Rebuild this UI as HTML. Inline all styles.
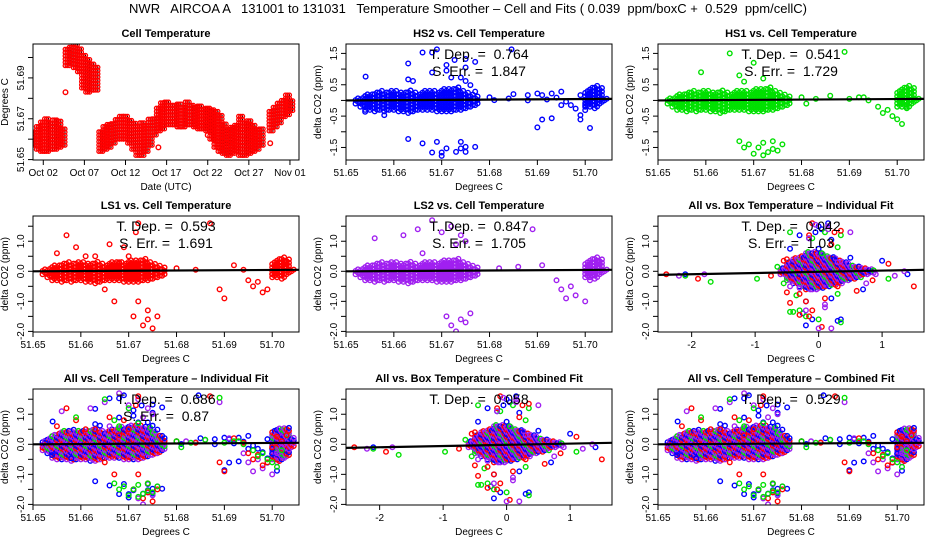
<!DOCTYPE html>
<html><head><meta charset="utf-8">
<style>
html,body{margin:0;padding:0;background:#fff;}
svg{display:block;font-family:"Liberation Sans",Arial,sans-serif;}
text{white-space:pre;}
</style></head>
<body>
<svg id="chart" width="936" height="540" viewBox="0 0 936 540" xmlns="http://www.w3.org/2000/svg">
<rect width="936" height="540" fill="#fff"/>
<text x="468" y="13" font-size="13" text-anchor="middle" xml:space="preserve">NWR   AIRCOA A   131001 to 131031   Temperature Smoother – Cell and Fits ( 0.039  ppm/boxC +  0.529  ppm/cellC)</text>
<g id="plots"></g>
</svg>
<script>
// ---------- data ----------
const tsDay=[0.9,1.4,1.9,2.4,2.9,3.4,3.9,4.4,4.9,5.4,5.9,6.4,6.9,7.4,7.9,8.4,9.0,9.5,10.0,10.5,11.0,11.5,12.0,12.5,13.0,13.5,14.0,14.5,15.0,15.5,16.0,16.5,17.0,17.5,18.0,18.5,19.0,19.5,20.0,20.5,21.0,21.5,22.0,22.5,23.0,23.5,24.0,24.5,25.0,25.5,26.0,26.5,27.0,27.5,28.0,28.5,29.7,30.2,30.7,31.2,31.7,32.1];
const tsLo=[51.657,51.655,51.654,51.654,51.655,51.655,51.656,51.657,51.696,51.697,51.695,51.693,51.685,51.683,51.684,51.684,51.654,51.655,51.656,51.658,51.660,51.660,51.660,51.658,51.655,51.652,51.652,51.654,51.657,51.662,51.664,51.665,51.667,51.667,51.667,51.666,51.666,51.667,51.667,51.666,51.665,51.665,51.664,51.660,51.656,51.654,51.653,51.652,51.653,51.654,51.652,51.652,51.653,51.654,51.655,51.657,51.664,51.666,51.668,51.671,51.672,51.674];
const tsHi=[51.664,51.667,51.669,51.671,51.668,51.670,51.669,51.665,51.705,51.706,51.707,51.705,51.701,51.700,51.698,51.696,51.664,51.667,51.668,51.669,51.671,51.672,51.672,51.670,51.668,51.667,51.668,51.667,51.670,51.671,51.676,51.678,51.679,51.678,51.677,51.678,51.677,51.679,51.677,51.676,51.677,51.676,51.676,51.675,51.674,51.672,51.668,51.666,51.667,51.668,51.672,51.668,51.670,51.668,51.666,51.666,51.674,51.676,51.678,51.680,51.682,51.679];
const tsOutDay=[4.7,16.0,29.6,22.0];
const tsOutVal=[51.683,51.656,51.658,51.662];
const dateLabels=["Oct 02","Oct 07","Oct 12","Oct 17","Oct 22","Oct 27","Nov 01"];
const dateTicks=[2,7,12,17,22,27,32];

const coreX=[51.652,51.653,51.654,51.655,51.656,51.657,51.658,51.659,51.660,51.661,51.662,51.663,51.664,51.665,51.666,51.667,51.668,51.669,51.670,51.671,51.672,51.673,51.674,51.675,51.676,51.677,51.700,51.701,51.702,51.703,51.704];
const coreLo=[-0.1,-0.2,-0.3,-0.3,-0.35,-0.3,-0.35,-0.3,-0.3,-0.35,-0.35,-0.4,-0.35,-0.3,-0.3,-0.3,-0.3,-0.35,-0.35,-0.35,-0.35,-0.3,-0.3,-0.25,-0.2,-0.15,-0.2,-0.2,-0.25,-0.1,0];
const coreHi=[0.05,0.1,0.15,0.2,0.25,0.25,0.3,0.25,0.25,0.3,0.3,0.3,0.25,0.2,0.25,0.3,0.35,0.3,0.35,0.4,0.4,0.4,0.3,0.25,0.15,0.1,0.3,0.4,0.45,0.4,0.1];
const wideLo=[-0.2,-0.3,-0.45,-0.5,-0.5,-0.5,-0.55,-0.5,-0.5,-0.5,-0.55,-0.55,-0.5,-0.45,-0.45,-0.45,-0.45,-0.5,-0.5,-0.5,-0.5,-0.45,-0.4,-0.35,-0.3,-0.2,-0.5,-0.6,-0.5,-0.4,-0.1];
const wideHi=[0.1,0.2,0.3,0.35,0.4,0.45,0.45,0.45,0.4,0.45,0.5,0.5,0.45,0.4,0.45,0.5,0.55,0.5,0.6,0.65,0.65,0.6,0.5,0.4,0.3,0.2,0.45,0.5,0.55,0.5,0.2];

const hs2X=[51.6541,51.663,51.663,51.664,51.666,51.668,51.669,51.668,51.671,51.671,51.6727,51.675,51.675,51.677,51.672,51.674,51.675,51.676,51.677,51.6846,51.663,51.666,51.668,51.669,51.670,51.670,51.671,51.673,51.674,51.674,51.675,51.675,51.677,51.658,51.654,51.680,51.681,51.684,51.685,51.688,51.688,51.690,51.691,51.692,51.693,51.694,51.695,51.695,51.696,51.697,51.698,51.699,51.699,51.699,51.700,51.700,51.690,51.691,51.693,51.701];
const hs2Y=[0.76,1.18,0.67,0.62,1.53,1.53,1.63,0.89,1.13,0.95,1.29,1.32,1.05,1.23,0.73,0.73,0.62,0.49,0.28,1.63,-1.23,-1.37,-1.66,-1.32,-1.66,-1.77,-1.53,-1.64,-1.32,-1.53,-1.48,-1.64,-1.48,-0.47,-0.36,0.1,0.01,0.06,0.2,0.17,0,0.22,0.17,0.03,0.22,0.09,0.28,-0.15,-0.04,-0.15,-0.26,0.17,-0.47,-0.61,-0.15,-0.31,-0.86,-0.61,-0.57,-0.88];
const hs1X=[51.659,51.665,51.667,51.668,51.670,51.672,51.689,51.667,51.668,51.669,51.670,51.671,51.672,51.673,51.674,51.675,51.676,51.672,51.674,51.680,51.683,51.686,51.690,51.692,51.694,51.696,51.698,51.699,51.700,51.701,51.702,51.697,51.693,51.681];
const hs1Y=[0.9,1.5,0.8,0.6,1.2,0.7,1.55,-1.3,-1.5,-1.4,-1.7,-1.5,-1.35,-1.65,-1.3,-1.6,-1.4,-1.75,-1.55,0.1,0.05,0.15,0.05,0.1,0.0,-0.2,-0.3,-0.5,-0.6,-0.75,-0.2,-0.4,0.1,-0.1];
const ls1X=[51.655,51.657,51.659,51.661,51.663,51.666,51.667,51.669,51.671,51.672,51.673,51.674,51.675,51.672,51.674,51.676,51.668,51.670,51.6715,51.687,51.689,51.690,51.692,51.695,51.696,51.697,51.698,51.699,51.700,51.701,51.702,51.703,51.680,51.684,51.694,51.665];
const ls1Y=[0.6,1.2,0.8,0.5,0.5,0.9,-1.0,0.8,-1.5,-1.0,-1.8,-1.3,-1.9,1.6,-1.6,-1.5,0.3,0.5,1.3,1.6,-0.6,-0.9,0.2,-0.3,-0.5,-0.35,-0.7,-0.6,-0.1,0.25,0.1,0.3,0.1,0.05,0.05,-0.6];
const ls2X=[51.656,51.662,51.665,51.666,51.668,51.670,51.672,51.673,51.674,51.675,51.671,51.672,51.673,51.674,51.675,51.676,51.689,51.691,51.694,51.695,51.696,51.697,51.698,51.700,51.701,51.702,51.703,51.682,51.686];
const ls2Y=[1.1,1.2,1.4,0.6,1.7,1.3,1.5,0.9,1.2,1.0,-1.5,-1.8,-2.0,-1.6,-1.7,-1.4,1.4,0.2,-0.3,-0.6,-0.9,-0.5,-0.8,-1.0,-0.3,-0.1,0.3,0.1,0.15];

const boxCoreX=[-0.6,-0.5,-0.4,-0.3,-0.2,-0.1,0,0.1,0.2,0.3,0.4,0.5,0.6,0.7,0.8];
const boxCoreLo=[-0.1,-0.3,-0.4,-0.5,-0.6,-0.6,-0.55,-0.5,-0.45,-0.4,-0.3,-0.25,-0.2,-0.1,-0.05];
const boxCoreHi=[0.1,0.3,0.4,0.5,0.6,0.65,0.6,0.5,0.45,0.35,0.3,0.2,0.15,0.1,0.1];
const boxBlueX=[-2.1,-0.45,-0.3,0.0,0.2,0.5,1.0,1.4,-0.2,-0.1,0.2,0.3,0.35,-0.25,-0.2,0.25,0.0,0.7,-0.05,0.05,0.15,-0.15];
const boxBlueY=[-0.1,0.75,1.2,0.75,1.05,0.45,0.35,-0.1,-1.0,-1.6,-0.9,-1.65,-1.6,-1.4,-1.8,0.4,1.5,-0.6,1.3,1.4,1.6,1.1];
const boxGreenX=[-2.1,-1.7,-0.97,-0.65,-0.55,-0.45,-0.4,-0.1,0.05,0.1,0.3,0.35,-0.45,-0.35,-0.2,0.35,1.1,0.0,0.3,-0.3];
const boxGreenY=[-0.15,-0.35,-0.25,0.15,-0.4,1.3,-1.35,1.1,0.6,1.3,0.8,1.2,-1.35,-0.8,-1.5,-1.7,-0.25,-1.6,-0.75,-1.3];
const boxRedX=[-2.4,-1.9,-0.75,-0.55,-0.5,-0.45,-0.3,-0.15,-0.1,0.2,0.25,0.3,0.6,0.85,1.1,1.5,-0.3,-0.2,-0.1,0.05,-0.15,0.1,0.35,-0.5];
const boxRedY=[-0.1,-0.25,-0.15,0.35,-0.7,-1.05,-0.75,1.2,1.6,0.9,1.3,-0.5,-0.65,-0.3,0.25,-0.5,-1.45,-1.0,-1.3,-1.85,-1.5,-0.9,1.35,0.4];
const boxPurpX=[-2.2,-1.8,-0.45,-0.3,-0.15,0.15,0.3,0.5,0.75,0.9,1.2,1.35,-0.2,0.1,0.2,0.0,-0.05,0.15,0.1];
const boxPurpY=[-0.15,-0.1,-0.5,-0.55,1.1,1.5,0.3,1.3,-0.4,-0.1,-0.15,0.0,-1.3,-1.2,-1.9,-1.9,1.55,1.4,-1.1];

const fitCell=[0.0,0.05];
const fitBox=[-0.12,0.05];

// ---------- drawing ----------
const NS="http://www.w3.org/2000/svg";
const root=document.getElementById('plots');
function el(tag,attrs,parent,txt){const e=document.createElementNS(NS,tag);for(const k in attrs)e.setAttribute(k,attrs[k]);if(txt!==undefined)e.textContent=txt;(parent||root).appendChild(e);return e;}
const colL=[33,346,658],rowT=[44,216,389],W=266,H=116;
const BLUE="#0000ff",GREEN="#00e000",RED="#ff0000",PURP="#a020f0";

function mkPanel(name,c,r,xmin,xmax,ymin,ymax){
  const L=colL[c],T=rowT[r];
  const g=el('g',{},root);
  
  
  const sx=v=>L+(v-xmin)/(xmax-xmin)*W;
  const sy=v=>T+H-(v-ymin)/(ymax-ymin)*H;
  const clip='clip-'+name;
  const cp=el('clipPath',{id:clip},g);el('rect',{x:L,y:T,width:W,height:H},cp);
  const marks=el('g',{'clip-path':'url(#'+clip+')'},g);
  return {g,marks,sx,sy,L,T};
}
function frame(p,title,xlab,ylab){
  const f=el('rect',{x:p.L,y:p.T,width:W,height:H,fill:'none',stroke:'#000','stroke-width':1},p.g);
  
  
  const t=el('text',{x:p.L+W/2,y:p.T-7,'font-size':11,'font-weight':'bold','text-anchor':'middle'},p.g,title);
  
  
  const xl=el('text',{x:p.L+W/2,y:p.T+H+30,'font-size':10,'text-anchor':'middle'},p.g,xlab);
  
  
  const yx=p.L-25,yy=p.T+H/2;
  const yl=el('text',{x:yx,y:yy,'font-size':10,'text-anchor':'middle',transform:'rotate(-90 '+yx+' '+yy+')'},p.g,ylab);
  
  
}
function xTicks(p,vals,labels){
  vals.forEach((v,i)=>{const x=p.sx(v);
    el('line',{x1:x,x2:x,y1:p.T+H,y2:p.T+H+5,stroke:'#000'},p.g);
    if(labels[i]){const t=el('text',{x:x,y:p.T+H+16,'font-size':10,'text-anchor':'middle'},p.g,labels[i]);
      
      }
  });
}
function yTicks(p,vals,labels){
  vals.forEach((v,i)=>{const y=p.sy(v);
    el('line',{x1:p.L-5,x2:p.L,y1:y,y2:y,stroke:'#000'},p.g);
    if(labels[i]){const x=p.L-9;const t=el('text',{x:x,y:y,'font-size':10,'text-anchor':'middle',transform:'rotate(-90 '+x+' '+y+')'},p.g,labels[i]);
      
      }
  });
}
function pt(p,x,y,col){el('circle',{cx:p.sx(x),cy:p.sy(y),r:2.3,fill:'none',stroke:col,'stroke-width':1.4},p.marks);}
function core(p,xs,lo,hi,cols,dx,nsub,ystep){
  let k=0;
  xs.forEach((x,i)=>{for(let s=0;s<nsub;s++){let j=0;for(let y=lo[i];y<=hi[i]+1e-9;y+=ystep){
    pt(p,x+s*dx/nsub,y+((s%2)?ystep/2:0),cols[(k+j+i)%cols.length]);j++;}k++;}});
}
function outl(p,xs,ys,col){xs.forEach((x,i)=>pt(p,x,ys[i],col));}
function fit(p,xmin,xmax,f){el('line',{x1:p.sx(xmin),x2:p.sx(xmax),y1:p.sy(f[0]),y2:p.sy(f[1]),stroke:'#000','stroke-width':2.2},p.g);}
function note(p,lines){lines.forEach((s,i)=>{const t=el('text',{x:p.L+W/2,y:p.T+15+i*17,'font-size':14,'text-anchor':'middle'},p.g,s);
  
  });}

(function(){
  const p=mkPanel('cell-temperature-panel',0,0,0.75,33.1,51.65-0.0002,51.7066);
  tsDay.forEach((d,i)=>{for(let x=d-0.25;x<=d+0.25;x+=0.25){for(let y=tsLo[i];y<=tsHi[i]+1e-9;y+=0.0016){
    el('circle',{cx:p.sx(x),cy:p.sy(y),r:1.9,fill:'none',stroke:RED,'stroke-width':1.3},p.marks);
    el('rect',{x:p.sx(x)-0.5,y:p.sy(y)-0.5,width:1,height:1,fill:'#000'},p.marks);}}});
  tsOutDay.forEach((d,i)=>el('circle',{cx:p.sx(d),cy:p.sy(tsOutVal[i]),r:2.3,fill:'none',stroke:RED,'stroke-width':1.4},p.marks));
  frame(p,'Cell Temperature','Date (UTC)','Degrees C');
  xTicks(p,dateTicks,dateLabels);
  yTicks(p,[51.65,51.66,51.67,51.68,51.69,51.70],['51.65','','51.67','','51.69','']);
})();

const cellXT=[51.65,51.66,51.67,51.68,51.69,51.70],cellXL=['51.65','51.66','51.67','51.68','51.69','51.70'];
const r1YT=[-1.5,-1,-0.5,0,0.5,1,1.5],r1YL=['-1.5','','-0.5','','0.5','','1.5'];
const r2YT=[-2,-1.5,-1,-0.5,0,0.5,1,1.5],r2YL=['-2.0','','-1.0','','0.0','','1.0',''];
const boxXT=[-2,-1,0,1],boxXL=['-2','-1','0','1'];
const XMIN=51.65,XMAX=51.7056,BXMIN=-2.53,BXMAX=1.66;
const MIX=[PURP,RED,PURP,BLUE,PURP,GREEN,PURP,RED,BLUE];

function cellPanel(name,c,r,title,series,wide,notes,ylim,yt,yl){
  const p=mkPanel(name,c,r,XMIN,XMAX,ylim[0],ylim[1]);
  core(p,coreX,wide?wideLo:coreLo,wide?wideHi:coreHi,wide?MIX:series.map(s=>s[2]),0.001,2,wide?0.09:0.11);
  series.forEach(s=>outl(p,s[0],s[1],s[2]));
  fit(p,XMIN,XMAX,fitCell);
  frame(p,title,'Degrees C','delta CO2 (ppm)');
  xTicks(p,cellXT,cellXL);yTicks(p,yt,yl);note(p,notes);
}
function boxPanel(name,c,r,title,notes){
  const p=mkPanel(name,c,r,BXMIN,BXMAX,-2.02,1.84);
  core(p,boxCoreX,boxCoreLo,boxCoreHi,MIX,0.1,3,0.08);
  outl(p,boxBlueX,boxBlueY,BLUE);outl(p,boxGreenX,boxGreenY,GREEN);outl(p,boxRedX,boxRedY,RED);outl(p,boxPurpX,boxPurpY,PURP);
  fit(p,BXMIN,BXMAX,fitBox);
  frame(p,title,'Degrees C','delta CO2 (ppm)');
  xTicks(p,boxXT,boxXL);yTicks(p,r2YT,r2YL);note(p,notes);
}
const R1=[-1.9,1.8],R2=[-2.02,1.84];
cellPanel('hs2-panel',1,0,'HS2 vs. Cell Temperature',[[hs2X,hs2Y,BLUE]],false,['T. Dep. =  0.764','S. Err. =  1.847'],R1,r1YT,r1YL);
cellPanel('hs1-panel',2,0,'HS1 vs. Cell Temperature',[[hs1X,hs1Y,GREEN]],false,['T. Dep. =  0.541','S. Err. =  1.729'],R1,r1YT,r1YL);
cellPanel('ls1-panel',0,1,'LS1 vs. Cell Temperature',[[ls1X,ls1Y,RED]],false,['T. Dep. =  0.593','S. Err. =  1.691'],R2,r2YT,r2YL);
cellPanel('ls2-panel',1,1,'LS2 vs. Cell Temperature',[[ls2X,ls2Y,PURP]],false,['T. Dep. =  0.847','S. Err. =  1.705'],R2,r2YT,r2YL);
boxPanel('all-box-individual-panel',2,1,'All vs. Box Temperature – Individual Fit',['T. Dep. =  0.042','S. Err. =  1.03']);
const allS=[[hs2X,hs2Y,BLUE],[ls2X,ls2Y,PURP],[ls1X,ls1Y,RED],[hs1X,hs1Y,GREEN]];
cellPanel('all-cell-individual-panel',0,2,'All vs. Cell Temperature – Individual Fit',allS,true,['T. Dep. =  0.686','S. Err. =  0.87'],R2,r2YT,r2YL);
boxPanel('all-box-combined-panel',1,2,'All vs. Box Temperature – Combined Fit',['T. Dep. =  0.058']);
cellPanel('all-cell-combined-panel',2,2,'All vs. Cell Temperature – Combined Fit',allS,true,['T. Dep. =  0.529'],R2,r2YT,r2YL);
</script>
</body></html>
